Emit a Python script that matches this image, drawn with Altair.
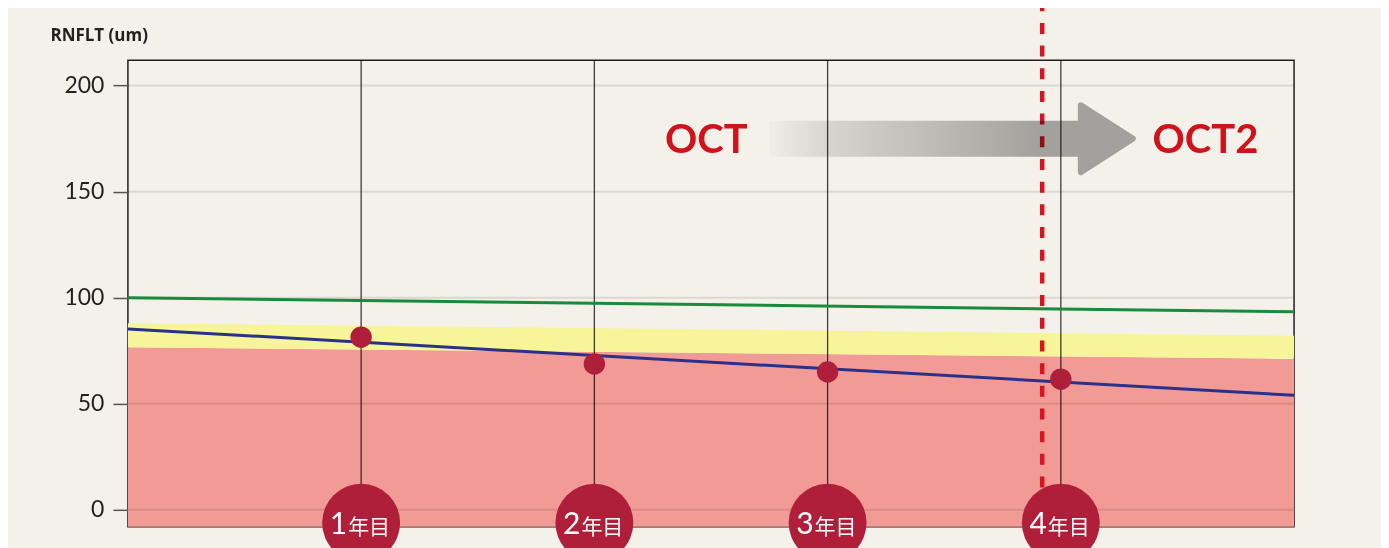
import altair as alt
import pandas as pd

# ---- data ----
years = [1, 2, 3, 4]
rnflt = [81.4, 68.8, 65.0, 61.6]
year_nums = ["1", "2", "3", "4"]
year_suffix = "年目"

x_ends = [0, 5]
green_line = [100.0, 93.4]
blue_line = [85.3, 54.0]
yellow_top = [88.0, 82.1]
red_top = [76.6, 71.3]

y_ticks = [0, 50, 100, 150, 200]
oct_switch = 3.92
oct_labels = ["OCT", "OCT2"]
oct_label_x = [2.48, 4.62]
oct_label_y = [174.0, 174.0]
arrow_x = 3.535
arrow_y = 175.0

Y_MIN, Y_MAX = -8, 212

xs = alt.Scale(domain=[0, 5], nice=False, zero=False)
ys = alt.Scale(domain=[Y_MIN, Y_MAX], nice=False, zero=False)

y_axis = alt.Axis(values=y_ticks, grid=False, domain=False,
                  tickSize=15, tickColor="#555555", tickWidth=1.5,
                  labelFont="Lato", labelFontSize=23, labelColor="#231f20",
                  labelPadding=9,
                  title="RNFLT (um)", titleAngle=0, titleAlign="left",
                  titleBaseline="middle", titleX=-78, titleY=-25,
                  titleFont="Open Sans", titleFontSize=17, titleFontWeight="bold",
                  titleColor="#231f20")

bands = pd.DataFrame({"x": x_ends, "red": red_top, "yellow": yellow_top,
                      "green": green_line, "blue": blue_line,
                      "floor": [Y_MIN, Y_MIN]})
pts = pd.DataFrame({"x": years, "y": rnflt, "num": year_nums,
                    "suf": [year_suffix] * 4, "cy": [-6.1] * 4,
                    "top": [Y_MAX] * 4, "bot": [Y_MIN] * 4})
grid = pd.DataFrame({"y": y_ticks, "x0": [0] * 5, "x1": [5] * 5})
octs = pd.DataFrame({"x": oct_label_x, "y": oct_label_y, "t": oct_labels})
arrow = pd.DataFrame({"x": [arrow_x], "y": [arrow_y]})
switch = pd.DataFrame({"x": [oct_switch]})

X = lambda f="x": alt.X(f, type="quantitative", scale=xs, axis=None)
Y = lambda f="y": alt.Y(f, type="quantitative", scale=ys, axis=y_axis)

base_b = alt.Chart(bands)
red_area = base_b.mark_area(color="#f29b96", opacity=1).encode(
    x=X(), y=Y("red"), y2="floor")
yellow_area = base_b.mark_area(color="#f8f499", opacity=1).encode(
    x=X(), y=Y("yellow"), y2="red")

grid_rules = alt.Chart(grid).mark_rule(color="black", opacity=0.1, strokeWidth=2).encode(
    x=X("x0"), x2="x1", y=Y("y"))

year_lines = alt.Chart(pts).mark_rule(color="black", opacity=0.75, strokeWidth=1.3).encode(
    x=X(), y=Y("top"), y2="bot")

green = base_b.mark_line(color="#1a8a3c", strokeWidth=3).encode(x=X(), y=Y("green"))
blue = base_b.mark_line(color="#2a3189", strokeWidth=3).encode(x=X(), y=Y("blue"))

points = alt.Chart(pts).mark_circle(size=460, color="#b01f3a", opacity=1).encode(x=X(), y=Y())

dash = alt.Chart(switch).mark_rule(color="#d7141f", strokeWidth=4.5,
                                   strokeDash=[11, 11.7]).encode(
    x=X(), y=alt.value(-60), y2=alt.value(500))

arrow_path = ("M -1.8 -0.15 L 1.285 -0.15 L 1.285 -0.335 L 1.805 0 "
              "L 1.285 0.335 L 1.285 0.15 L -1.8 0.15 Z")
grad = alt.LinearGradient(
    gradient="linear", x1=0, x2=1, y1=0, y2=0,
    stops=[alt.GradientStop(color="#fafafa", offset=0),
           alt.GradientStop(color="#e1e1e1", offset=0.16),
           alt.GradientStop(color="#ababab", offset=0.74),
           alt.GradientStop(color="#ababab", offset=1)])
arrow_mark = alt.Chart(arrow).mark_point(
    shape=arrow_path, size=40000, filled=True, fill=grad, stroke=grad,
    strokeWidth=6, strokeJoin="round", opacity=1, fillOpacity=1, blend="multiply"
).encode(x=X(), y=Y())

oct_text = alt.Chart(octs).mark_text(
    font="Lato", fontSize=40, fontWeight="bold", color="#d0121b",
    align="center", baseline="middle").encode(x=X(), y=Y(), text="t")

circles = alt.Chart(pts).mark_circle(size=6084, color="#b01f3a", opacity=1).encode(
    x=X(), y=Y("cy"))
nums = alt.Chart(pts).mark_text(
    font="Lato", fontSize=30, fontWeight="normal", color="white", align="right",
    baseline="alphabetic", dx=-14, dy=11).encode(x=X(), y=Y("cy"), text="num")
sufs = alt.Chart(pts).mark_text(
    font="Noto Sans CJK JP", fontSize=21, color="white", align="left",
    baseline="alphabetic", dx=-13, dy=11).encode(x=X(), y=Y("cy"), text="suf")

chart = alt.layer(
    red_area, yellow_area, grid_rules, year_lines, green, blue, points,
    dash, arrow_mark, oct_text, circles, nums, sufs
).properties(
    width=1167, height=467, background="#f4f1ea",
    padding={"left": 120, "top": 52, "right": 87, "bottom": 21},
    autosize=alt.AutoSizeParams(type="none"),
).configure_view(stroke="#231f20", strokeWidth=1.5)

chart.save("out.html", embed_options={"renderer": "svg", "actions": False})
